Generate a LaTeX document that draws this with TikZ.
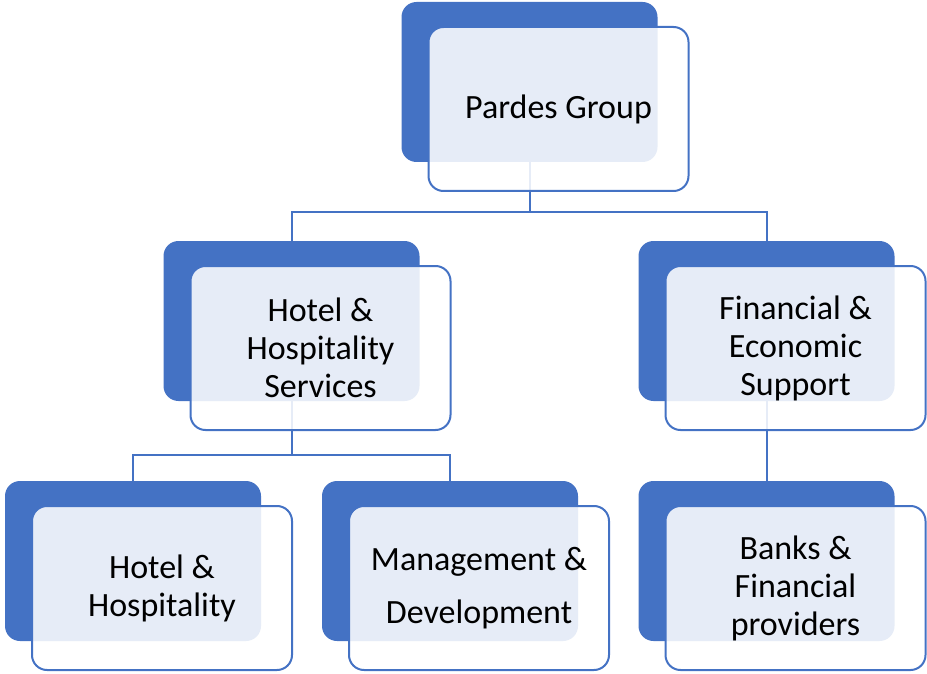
\documentclass[tikz,border=0pt]{standalone}
\usepackage{fontspec}
\setmainfont{Carlito}
\definecolor{unitblue}{HTML}{4472C4}

\begin{document}
\begin{tikzpicture}[x=1pt,y=1pt,
  backbox/.style={fill=unitblue, rounded corners=15pt, minimum width=256pt,
    minimum height=160pt, inner sep=0pt, outer sep=0pt},
  frontbox/.style={draw=unitblue, line width=2pt, fill=white, fill opacity=0.87,
    text opacity=1, rounded corners=15pt, minimum width=260pt, minimum height=164pt,
    inner sep=0pt, outer sep=0pt, align=center, font=\fontsize{34}{38}\selectfont},
  link/.style={draw=unitblue, line width=2pt}]

  % Parameters
  \def\dx{29}
  \def\dy{-27}
  \useasboundingbox (0,0) rectangle (927,-674);

  % coloured back plates
  \node[backbox] (pardesBack)   at (529.5,-82) {};
  \node[backbox] (hotelSvcBack) at (291.5,-321) {};
  \node[backbox] (finBack)      at (766.5,-321) {};
  \node[backbox] (hotelBack)    at (133,-561) {};
  \node[backbox] (mgmtBack)     at (450,-561) {};
  \node[backbox] (bankBack)     at (766.5,-561) {};

  % connectors
  \coordinate (busTop) at (529.5,-212);
  \coordinate (busMid) at (291.5,-455);
  \draw[link] (pardesBack.center) -- (busTop);
  \draw[link] (busTop) -| (hotelSvcBack.north);
  \draw[link] (busTop) -| (finBack.north);
  \draw[link] (hotelSvcBack.center) -- (busMid);
  \draw[link] (busMid) -| (hotelBack.north);
  \draw[link] (busMid) -| (mgmtBack.north);
  \draw[link] (finBack.center) -- (bankBack.north);

  % text cards
  \node[frontbox] (pardes)   at ([shift={(\dx,\dy)}]pardesBack.center) {Pardes Group};
  \node[frontbox] (hotelSvc) at ([shift={(\dx,\dy)}]hotelSvcBack.center) {Hotel \&\\Hospitality\\Services};
  \node[frontbox] (fin)      at ([shift={(\dx,\dy)}]finBack.center) {Financial \&\\Economic\\Support};
  \node[frontbox] (hotel)    at ([shift={(\dx,\dy)}]hotelBack.center) {Hotel \&\\Hospitality};
  \node[frontbox, font=\fontsize{34}{53}\selectfont] (mgmt)
    at ([shift={(\dx,\dy)}]mgmtBack.center) {Management \&\\Development};
  \node[frontbox] (bank)     at ([shift={(\dx,\dy)}]bankBack.center) {Banks \&\\Financial\\providers};

\end{tikzpicture}
\end{document}
